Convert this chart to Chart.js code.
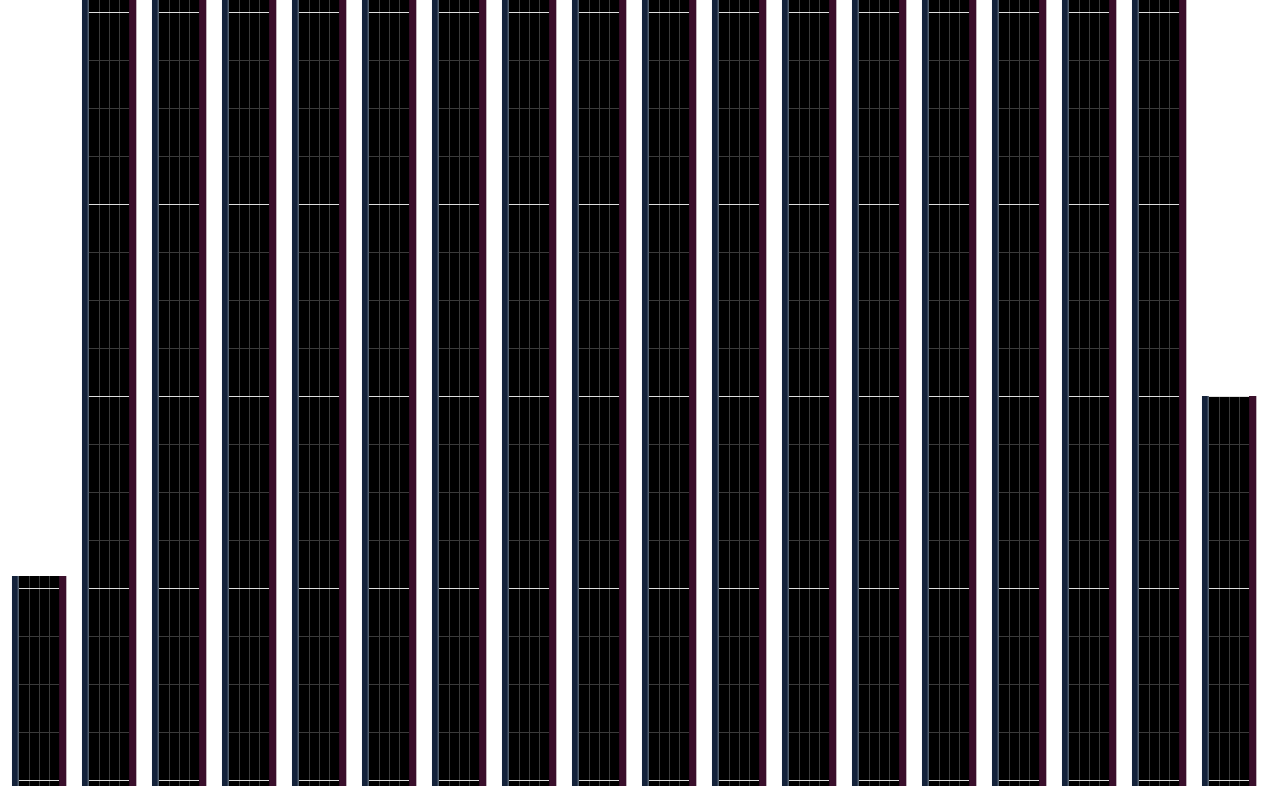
<!DOCTYPE html>
<html>
<head>
<meta charset="utf-8">
<script src="https://cdn.jsdelivr.net/npm/chart.js@4"></script>
<style>
  html, body { margin: 0; padding: 0; background: #ffffff; }
  #myChart { display: block; }
</style>
</head>
<body>
<canvas id="myChart" width="1270" height="786"></canvas>
<script>
    // categories and values
    var etiquetas = ['1', '2', '3', '4', '5', '6', '7', '8', '9', '10', '11', '12', '13', '14', '15', '16', '17', '18'];
    var valores = [35, 131, 131, 131, 131, 131, 131, 131, 131, 131, 131, 131, 131, 131, 131, 131, 131, 65];

    // grid lines shown inside the bars (value axis units)
    var lineasMenores = [1, 9, 17, 25, 33, 41, 49, 57, 65, 73, 81, 89, 97, 105, 113, 121, 129];
    var lineasMayores = [1, 33, 65, 97, 129];
    var yMax = 131;

    // draws the grid only inside the black bars
    var rejillaBarras = {
        id: 'rejillaBarras',
        afterDatasetsDraw: function(chart) {
            var ctx = chart.ctx;
            var escalaY = chart.scales.y;
            var meta = chart.getDatasetMeta(1);
            meta.data.forEach(function(barra) {
                var p = barra.getProps(['x', 'y', 'base', 'width'], true);
                var izq = p.x - p.width / 2;
                var der = p.x + p.width / 2;
                var arriba = Math.min(p.y, p.base);
                var abajo = Math.max(p.y, p.base);
                ctx.save();
                ctx.beginPath();
                ctx.rect(izq, arriba, der - izq, abajo - arriba);
                ctx.clip();
                ctx.lineWidth = 1;
                ctx.strokeStyle = '#3a3a3a';
                ctx.beginPath();
                for (var q = 1; q < 4; q++) {
                    var x = Math.round(izq + p.width * q / 4) + 0.5;
                    ctx.moveTo(x, arriba);
                    ctx.lineTo(x, abajo);
                }
                lineasMenores.forEach(function(v) {
                    var y = Math.round(escalaY.getPixelForValue(v)) + 0.5;
                    ctx.moveTo(izq, y);
                    ctx.lineTo(der, y);
                });
                ctx.stroke();
                ctx.strokeStyle = '#dedede';
                ctx.beginPath();
                lineasMayores.forEach(function(v) {
                    var y = Math.round(escalaY.getPixelForValue(v)) + 0.5;
                    ctx.moveTo(izq, y);
                    ctx.lineTo(der, y);
                });
                ctx.stroke();
                ctx.restore();
            });
        }
    };

    var catPct = 1.0136;
    const ctx = document.getElementById('myChart');
    const myChart = new Chart(ctx, {
        type: 'bar',
        data: {
            labels: etiquetas,
            datasets: [{
                label: 'izquierda',
                data: valores,
                backgroundColor: '#14223a',
                borderColor: '#1e3246',
                borderWidth: {left: 0, right: 1, top: 0, bottom: 0},
                borderSkipped: false,
                categoryPercentage: catPct,
                barPercentage: 0.296
            }, {
                label: 'centro',
                data: valores,
                backgroundColor: '#000000',
                borderWidth: 0,
                categoryPercentage: catPct,
                barPercentage: 1.704
            }, {
                label: 'derecha',
                data: valores,
                backgroundColor: '#3a0f2b',
                borderWidth: 0,
                categoryPercentage: catPct,
                barPercentage: 0.31
            }]
        },
        options: {
            responsive: false,
            devicePixelRatio: 1,
            animation: false,
            layout: {
                padding: {left: 4, right: 6, top: 0, bottom: 0}
            },
            scales: {
                x: {display: false},
                y: {display: false, min: 0, max: yMax}
            },
            plugins: {
                legend: {display: false},
                tooltip: {enabled: false}
            }
        },
        plugins: [rejillaBarras]
    });
</script>
</body>
</html>
